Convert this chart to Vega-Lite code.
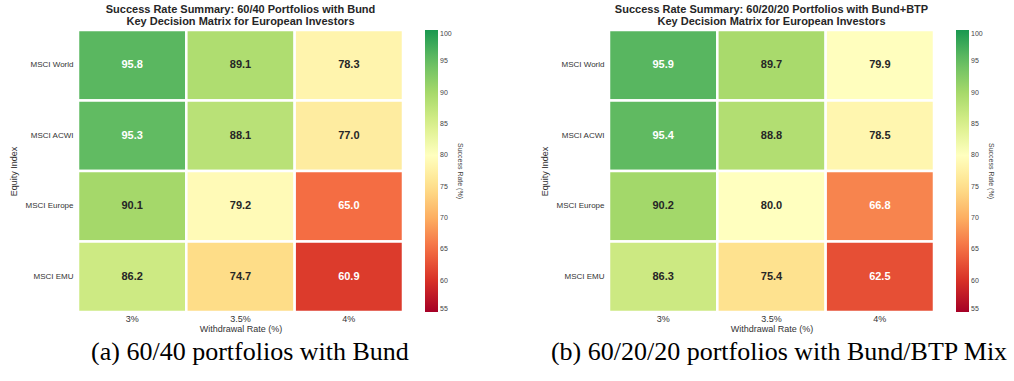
{
  "$schema": "https://vega.github.io/schema/vega-lite/v6.json",
  "background": "white",
  "padding": {"left": 9, "top": 3, "right": 0, "bottom": 0},
  "config": {
    "view": {"stroke": null},
    "font": "Liberation Sans",
    "axis": {"labelFont": "Liberation Sans", "titleFont": "Liberation Sans", "labelColor": "#333", "titleColor": "#333", "titleFontWeight": "normal", "domain": false, "ticks": false, "grid": false},
    "legend": {"labelFont": "Liberation Sans", "titleFont": "Liberation Sans"}
  },
  "datasets": {
    "a": [
      {"index": "MSCI World", "rate": "3%", "success": 95.8},
      {"index": "MSCI World", "rate": "3.5%", "success": 89.1},
      {"index": "MSCI World", "rate": "4%", "success": 78.3},
      {"index": "MSCI ACWI", "rate": "3%", "success": 95.3},
      {"index": "MSCI ACWI", "rate": "3.5%", "success": 88.1},
      {"index": "MSCI ACWI", "rate": "4%", "success": 77.0},
      {"index": "MSCI Europe", "rate": "3%", "success": 90.1},
      {"index": "MSCI Europe", "rate": "3.5%", "success": 79.2},
      {"index": "MSCI Europe", "rate": "4%", "success": 65.0},
      {"index": "MSCI EMU", "rate": "3%", "success": 86.2},
      {"index": "MSCI EMU", "rate": "3.5%", "success": 74.7},
      {"index": "MSCI EMU", "rate": "4%", "success": 60.9}
    ],
    "b": [
      {"index": "MSCI World", "rate": "3%", "success": 95.9},
      {"index": "MSCI World", "rate": "3.5%", "success": 89.7},
      {"index": "MSCI World", "rate": "4%", "success": 79.9},
      {"index": "MSCI ACWI", "rate": "3%", "success": 95.4},
      {"index": "MSCI ACWI", "rate": "3.5%", "success": 88.8},
      {"index": "MSCI ACWI", "rate": "4%", "success": 78.5},
      {"index": "MSCI Europe", "rate": "3%", "success": 90.2},
      {"index": "MSCI Europe", "rate": "3.5%", "success": 80.0},
      {"index": "MSCI Europe", "rate": "4%", "success": 66.8},
      {"index": "MSCI EMU", "rate": "3%", "success": 86.3},
      {"index": "MSCI EMU", "rate": "3.5%", "success": 75.4},
      {"index": "MSCI EMU", "rate": "4%", "success": 62.5}
    ]
  },
  "spacing": 76,
  "resolve": {"scale": {"color": "independent"}},
  "hconcat": [
    {
      "title": {"text": "(a) 60/40 portfolios with Bund", "orient": "bottom", "anchor": "middle", "font": "Liberation Serif", "fontSize": 26, "fontWeight": "normal", "color": "black", "offset": 6, "dx": 13},
      "resolve": {"scale": {"color": "independent"}},
      "vconcat": [
        {
          "data": {"name": "a"},
          "width": 325,
          "height": 282,
          "title": {"text": ["Success Rate Summary: 60/40 Portfolios with Bund", "Key Decision Matrix for European Investors"], "fontSize": 11, "fontWeight": "bold", "color": "#262626", "font": "Liberation Sans", "offset": 2, "lineHeight": 12},
          "encoding": {
            "x": {"field": "rate", "type": "nominal", "sort": ["3%", "3.5%", "4%"], "title": "Withdrawal Rate (%)", "axis": {"labelAngle": 0, "labelFontSize": 9, "titleFontSize": 9, "labelPadding": 2, "titlePadding": 1}},
            "y": {"field": "index", "type": "nominal", "sort": ["MSCI World", "MSCI ACWI", "MSCI Europe", "MSCI EMU"], "title": "Equity Index", "axis": {"labelFontSize": 8, "titleFontSize": 9, "labelPadding": 5, "titlePadding": 6}}
          },
          "layer": [
            {
              "mark": {"type": "rect", "stroke": "white", "strokeWidth": 2.5},
              "encoding": {
                "color": {"field": "success", "type": "quantitative",
                  "scale": {"type": "linear", "domain": [55, 60, 65, 70, 75, 80, 85, 90, 95, 100], "range": ["#a50026", "#d73027", "#f46d43", "#fdae61", "#fee08b", "#ffffbf", "#d9ef8b", "#a6d96a", "#66bd63", "#1a9850"], "interpolate": "rgb"},
                  "title": "Success Rate (%)",
                  "legend": {"gradientLength": 282, "gradientThickness": 13, "values": [55, 60, 65, 70, 75, 80, 85, 90, 95, 100], "labelFontSize": 7, "labelColor": "#444", "titleFontSize": 7, "titleColor": "#444", "titleFontWeight": "normal", "titleOrient": "right", "titleAngle": 270, "titleAnchor": "middle", "offset": 22, "gradientStrokeWidth": 0}}
              }
            },
            {
              "mark": {"type": "text", "fontSize": 11, "fontWeight": "bold", "font": "Liberation Sans"},
              "encoding": {
                "text": {"field": "success", "type": "quantitative", "format": ".1f"},
                "color": {"condition": {"test": "datum.success > 93 || datum.success < 70", "value": "white"}, "value": "#262626"}
              }
            }
          ]
        }
      ]
    },
    {
      "title": {"text": "(b) 60/20/20 portfolios with Bund/BTP Mix", "orient": "bottom", "anchor": "middle", "font": "Liberation Serif", "fontSize": 26, "fontWeight": "normal", "color": "black", "offset": 6, "dx": 11},
      "resolve": {"scale": {"color": "independent"}},
      "vconcat": [
        {
          "data": {"name": "b"},
          "width": 325,
          "height": 282,
          "title": {"text": ["Success Rate Summary: 60/20/20 Portfolios with Bund+BTP", "Key Decision Matrix for European Investors"], "fontSize": 11, "fontWeight": "bold", "color": "#262626", "font": "Liberation Sans", "offset": 2, "lineHeight": 12},
          "encoding": {
            "x": {"field": "rate", "type": "nominal", "sort": ["3%", "3.5%", "4%"], "title": "Withdrawal Rate (%)", "axis": {"labelAngle": 0, "labelFontSize": 9, "titleFontSize": 9, "labelPadding": 2, "titlePadding": 1}},
            "y": {"field": "index", "type": "nominal", "sort": ["MSCI World", "MSCI ACWI", "MSCI Europe", "MSCI EMU"], "title": "Equity Index", "axis": {"labelFontSize": 8, "titleFontSize": 9, "labelPadding": 5, "titlePadding": 6}}
          },
          "layer": [
            {
              "mark": {"type": "rect", "stroke": "white", "strokeWidth": 2.5},
              "encoding": {
                "color": {"field": "success", "type": "quantitative",
                  "scale": {"type": "linear", "domain": [55, 60, 65, 70, 75, 80, 85, 90, 95, 100], "range": ["#a50026", "#d73027", "#f46d43", "#fdae61", "#fee08b", "#ffffbf", "#d9ef8b", "#a6d96a", "#66bd63", "#1a9850"], "interpolate": "rgb"},
                  "title": "Success Rate (%)",
                  "legend": {"gradientLength": 282, "gradientThickness": 13, "values": [55, 60, 65, 70, 75, 80, 85, 90, 95, 100], "labelFontSize": 7, "labelColor": "#444", "titleFontSize": 7, "titleColor": "#444", "titleFontWeight": "normal", "titleOrient": "right", "titleAngle": 270, "titleAnchor": "middle", "offset": 22, "gradientStrokeWidth": 0}}
              }
            },
            {
              "mark": {"type": "text", "fontSize": 11, "fontWeight": "bold", "font": "Liberation Sans"},
              "encoding": {
                "text": {"field": "success", "type": "quantitative", "format": ".1f"},
                "color": {"condition": {"test": "datum.success > 93 || datum.success < 70", "value": "white"}, "value": "#262626"}
              }
            }
          ]
        }
      ]
    }
  ]
}
